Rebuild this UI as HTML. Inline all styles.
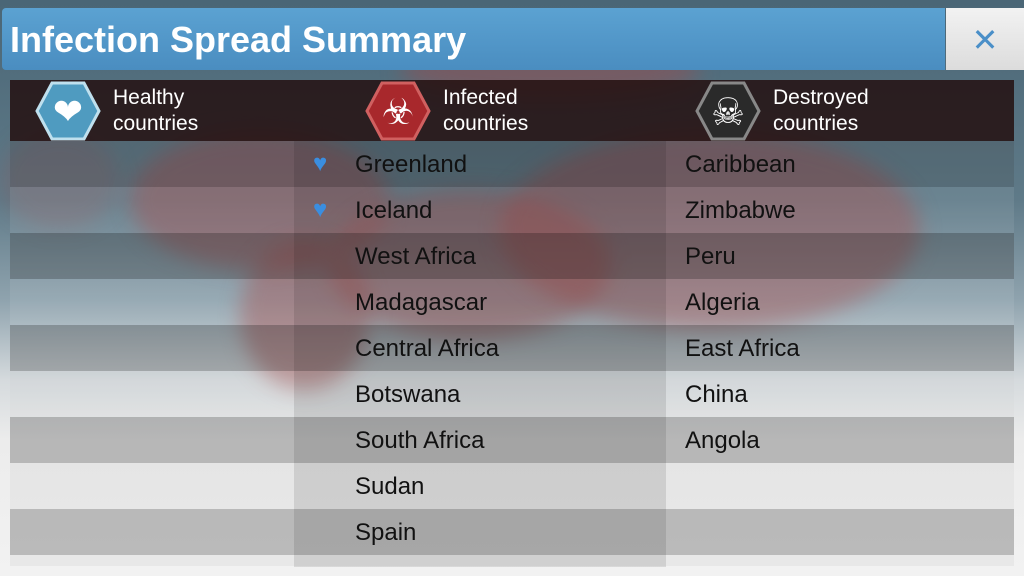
<!DOCTYPE html>
<html><head><meta charset="utf-8"><style>
body{margin:0;width:1024px;height:576px;overflow:hidden;font-family:"Liberation Sans",sans-serif;position:relative;
background:linear-gradient(#4a6676 0px,#5f7a88 200px,#8fa3ae 300px,#d5dadd 380px,#ececec 440px,#f2f2f2 576px);}
.blob{position:absolute;border-radius:50%;background:rgba(160,70,70,0.45);filter:blur(10px)}
.title{position:absolute;left:2px;top:8px;width:943px;height:62px;background:linear-gradient(#5ba2d2,#4a8dc0);border-radius:4px 0 0 4px;color:#fff;font-weight:bold;font-size:36px;line-height:64px;padding-left:8px;box-sizing:border-box}
.close{position:absolute;left:946px;top:8px;width:78px;height:62px;background:linear-gradient(#f2f2f2,#dcdcdc);color:#4a8fc8;font-size:32px;text-align:center;line-height:64px}
.hdr{position:absolute;left:10px;top:80px;width:1004px;height:61px;background:rgba(35,15,15,0.85)}
.ht{position:absolute;top:85px;color:#fff;font-size:21px;line-height:26px}
.row{position:absolute;left:10px;width:1004px;height:46px}
.mid{position:absolute;left:294px;width:372px;background:rgba(0,0,0,0.1)}
.t{position:absolute;font-size:24px;color:#111;line-height:48px}
</style></head><body>
<div class="blob" style="left:130px;top:130px;width:260px;height:140px"></div>
<div class="blob" style="left:330px;top:190px;width:280px;height:150px"></div>
<div class="blob" style="left:500px;top:130px;width:420px;height:200px"></div>
<div class="blob" style="left:240px;top:240px;width:130px;height:150px"></div>
<div class="blob" style="left:0px;top:130px;width:120px;height:100px;background:rgba(160,70,70,0.2)"></div>
<div class="blob" style="left:400px;top:40px;width:300px;height:60px"></div>
<div class="title">Infection Spread Summary</div>
<div class="close">✕</div>
<div class="hdr"></div>
<svg style="position:absolute;left:0;top:80px" width="1024" height="61">
<polygon points="52,3 84,3 99,31 84,59 52,59 37,31" fill="#4f9bc0" stroke="#bfe0ee" stroke-width="3"/>
<text x="68" y="44" font-size="36" fill="#fff" text-anchor="middle">❤</text>
<polygon points="382,3 414,3 429,31 414,59 382,59 367,31" fill="#a8282c" stroke="#d06060" stroke-width="3"/>
<text x="398" y="44" font-size="36" fill="#fff" text-anchor="middle">☣</text>
<polygon points="712,3 744,3 759,31 744,59 712,59 697,31" fill="#2a2a2a" stroke="#888" stroke-width="3"/>
<text x="728" y="45" font-size="38" fill="#fff" text-anchor="middle">☠</text>
</svg>
<div class="ht" style="left:113px">Healthy<br>countries</div>
<div class="ht" style="left:443px">Infected<br>countries</div>
<div class="ht" style="left:773px">Destroyed<br>countries</div>

<div class="row" style="top:141px;background:rgba(60,60,60,0.2)"></div>
<div class="row" style="top:187px;background:rgba(255,255,255,0.08)"></div>
<div class="row" style="top:233px;background:rgba(60,60,60,0.3)"></div>
<div class="row" style="top:279px;background:rgba(255,255,255,0.08)"></div>
<div class="row" style="top:325px;background:rgba(60,60,60,0.3)"></div>
<div class="row" style="top:371px;background:rgba(200,200,200,0.1)"></div>
<div class="row" style="top:417px;background:rgba(60,60,60,0.3)"></div>
<div class="row" style="top:463px;background:rgba(200,200,200,0.2)"></div>
<div class="row" style="top:509px;background:rgba(60,60,60,0.3)"></div>
<div class="row" style="top:555px;height:11px;background:rgba(200,200,200,0.2)"></div>
<div class="mid" style="top:141px;height:426px"></div>

<div class="t" style="left:313px;top:140px;color:#3a8ee0;font-size:24px">♥</div>
<div class="t" style="left:313px;top:186px;color:#3a8ee0;font-size:24px">♥</div>
<div class="t" style="left:355px;top:141px">Greenland</div>
<div class="t" style="left:355px;top:187px">Iceland</div>
<div class="t" style="left:355px;top:233px">West Africa</div>
<div class="t" style="left:355px;top:279px">Madagascar</div>
<div class="t" style="left:355px;top:325px">Central Africa</div>
<div class="t" style="left:355px;top:371px">Botswana</div>
<div class="t" style="left:355px;top:417px">South Africa</div>
<div class="t" style="left:355px;top:463px">Sudan</div>
<div class="t" style="left:355px;top:509px">Spain</div>
<div class="t" style="left:685px;top:141px">Caribbean</div>
<div class="t" style="left:685px;top:187px">Zimbabwe</div>
<div class="t" style="left:685px;top:233px">Peru</div>
<div class="t" style="left:685px;top:279px">Algeria</div>
<div class="t" style="left:685px;top:325px">East Africa</div>
<div class="t" style="left:685px;top:371px">China</div>
<div class="t" style="left:685px;top:417px">Angola</div>
</body></html>
